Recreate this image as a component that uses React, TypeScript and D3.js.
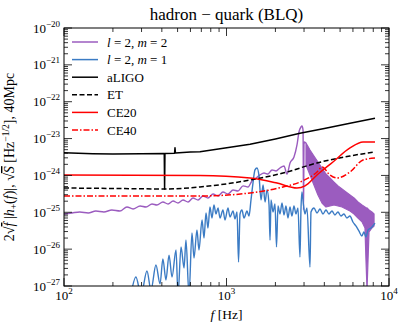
import React from 'react';
import * as d3 from 'd3';

// frequency [Hz], amplitude
const m22Line: [number, number][] = [
  [100, 9.0e-26], [112, 9.6e-26], [125, 1.02e-25], [141, 9.6e-26], [157, 1.08e-25], [176, 1.02e-25],
  [197, 1.15e-25], [221, 1.08e-25], [244, 1.39e-25], [266, 1.23e-25], [294, 1.48e-25], [320, 1.39e-25],
  [348, 1.68e-25], [373, 1.58e-25], [406, 1.9e-25], [437, 1.68e-25], [469, 2.02e-25], [503, 1.79e-25],
  [540, 2.16e-25], [580, 1.9e-25], [622, 2.44e-25], [668, 2.16e-25], [716, 2.77e-25], [769, 2.44e-25],
  [826, 3.13e-25], [887, 2.77e-25], [951, 3.56e-25], [1021, 3.13e-25], [1097, 4.03e-25], [1177, 3.79e-25],
  [1265, 5.2e-25], [1356, 4.86e-25], [1435, 7.06e-25], [1520, 8.5e-25], [1608, 1.03e-24], [1702, 1.16e-24],
  [1800, 1.09e-24], [1906, 1.41e-24], [2017, 1.32e-24], [2134, 1.59e-24], [2259, 1.8e-24], [2356, 1.09e-24],
  [2460, 2.18e-24], [2602, 3.16e-24], [2715, 6.7e-24], [2793, 1.51e-23], [2872, 2.06e-23], [2915, 2.19e-23],
  [2958, 1.71e-23], [2980, 1.15e-25], [3000, 8.07e-24], [3085, 7.56e-24],
];

// post-merger noisy band: frequency, upper, lower
const m22Band: [number, number, number][] = [
  [3085, 7.56e-24, 1.92e-24], [3265, 4.9e-24, 1.03e-24], [3452, 3.36e-24, 5.5e-25], [3654, 2.31e-24, 2.95e-25],
  [3870, 1.59e-24, 1.79e-25], [4093, 1.09e-24, 1.39e-25], [4333, 8.5e-25, 1.48e-25], [4590, 6.6e-25, 1.58e-25],
  [4858, 5.2e-25, 1.48e-25], [5140, 4.29e-25, 1.39e-25], [5436, 3.56e-25, 1.23e-25], [5755, 2.95e-25, 1.08e-25],
  [6095, 2.44e-25, 9.0e-26], [6445, 1.9e-25, 7.0e-26], [6820, 1.58e-25, 5.5e-26], [7115, 1.39e-25, 3.76e-26],
  [7215, 1.31e-25, 5.1e-27], [7325, 1.31e-25, 7.8e-28], [7430, 1.23e-25, 5.1e-27], [7535, 1.15e-25, 2.93e-26],
  [7850, 1.02e-25, 3.76e-26], [8090, 9.0e-26, 4.26e-26],
];

const m21Line: [number, number][] = [
  [258, 5.7e-28], [277, 1.76e-27], [298, 5.7e-28], [324, 2.55e-27], [343, 7.8e-28], [368, 3.72e-27],
  [390, 1.14e-27], [406, 5.4e-27], [424, 1.46e-27], [443, 6.9e-27], [462, 1.76e-27], [489, 9.5e-27],
  [503, 5.7e-28], [525, 1.15e-26], [548, 3.08e-27], [563, 1.77e-26], [588, 5.7e-28], [613, 2.74e-26],
  [631, 5.75e-27], [658, 3.31e-26], [677, 9.5e-27], [707, 6.2e-26], [727, 2.0e-26], [748, 9.6e-26],
  [769, 3.75e-26], [791, 1.39e-25], [814, 7.0e-26], [837, 1.58e-25], [861, 9.0e-26], [887, 1.31e-25],
  [912, 7.0e-26], [951, 1.15e-25], [979, 6.2e-26], [1021, 1.31e-25], [1051, 7.45e-26], [1097, 1.08e-25],
  [1128, 6.6e-26], [1161, 1.02e-25], [1186, 4.48e-27], [1211, 9.0e-26], [1245, 1.15e-25], [1282, 7.0e-26],
  [1337, 1.08e-25], [1375, 7.9e-26], [1415, 2.16e-25], [1455, 6.2e-25], [1497, 1.41e-24], [1540, 1.59e-24],
  [1585, 9.7e-25], [1631, 2.16e-25], [1679, 5.5e-25], [1727, 1.9e-25], [1775, 4.03e-25], [1827, 1.58e-25],
  [1853, 1.77e-26], [1879, 2.16e-25], [1933, 1.02e-25], [1988, 1.68e-25], [2031, 1.15e-26], [2075, 1.48e-25],
  [2134, 9.0e-26], [2196, 1.79e-25], [2259, 8.45e-26], [2323, 1.48e-25], [2390, 7.0e-26], [2458, 1.39e-25],
  [2529, 7.9e-26], [2601, 1.48e-25], [2676, 9.0e-26], [2753, 1.31e-25], [2832, 6.1e-27], [2872, 1.15e-25],
  [2913, 3.56e-25], [2976, 1.58e-25], [3041, 9.0e-26], [3128, 1.31e-25], [3264, 3.28e-27], [3311, 1.02e-25],
  [3455, 1.31e-25], [3605, 9.6e-26], [3761, 1.23e-25], [3924, 9.0e-26], [4094, 1.15e-25], [4272, 9.0e-26],
  [4457, 1.08e-25], [4650, 8.45e-26], [4851, 1.02e-25], [5061, 7.9e-26], [5280, 9.0e-26], [5509, 7.0e-26],
  [5747, 7.9e-26], [5996, 5.45e-26], [6256, 4.25e-26], [6527, 3.11e-26], [6810, 2.28e-26], [7010, 2.92e-26],
  [7215, 2.14e-26], [7427, 3.31e-26], [7748, 3.75e-26], [8200, 5.1e-26],
];

const aligo: [number, number][] = [
  [100, 4.1e-24], [150, 3.9e-24], [200, 3.8e-24], [300, 3.85e-24], [414, 3.95e-24], [416, 4.3e-25],
  [418, 3.95e-24], [479, 4.0e-24], [482, 5.6e-24], [485, 4.05e-24], [600, 4.3e-24], [687, 4.4e-24],
  [980, 5.56e-24], [1396, 7.0e-24], [2000, 9.8e-24], [2832, 1.39e-23], [4000, 1.88e-23], [5755, 2.6e-23],
  [8200, 3.55e-23],
];

const et: [number, number][] = [
  [100, 4.56e-25], [200, 4.43e-25], [419, 4.29e-25], [687, 4.86e-25], [1396, 7.5e-25], [2228, 1.16e-24],
  [3606, 2.18e-24], [5755, 3.37e-24], [8200, 4.33e-24],
];

const ce20: [number, number][] = [
  [100, 1.03e-24], [687, 1.0e-24], [1396, 8.5e-25], [2046, 6.2e-25], [2715, 4.56e-25], [3042, 5.2e-25],
  [3606, 1.03e-24], [4520, 2.32e-24], [5755, 5.56e-24], [6920, 8.07e-24], [8200, 8.07e-24],
];

const ce40: [number, number][] = [
  [100, 2.77e-25], [687, 2.77e-25], [1396, 3.34e-25], [2228, 4.86e-25], [2832, 6.6e-25], [3606, 1.24e-24],
  [3870, 1.69e-24], [4333, 1.03e-24], [4785, 8.5e-25], [5755, 1.24e-24], [6920, 2.62e-24], [8200, 2.97e-24],
];

const xTickExps = [2, 3, 4];
const yTickExps = [-27, -26, -25, -24, -23, -22, -21, -20];
const legendLabels = ['l=2,m=2', 'l=2,m=1', 'aLIGO', 'ET', 'CE20', 'CE40'];

const W = 407, H = 330;
const margin = { top: 28, right: 18, bottom: 44, left: 64 };
const FONT = '"Liberation Serif", "DejaVu Serif", serif';
const PURPLE = '#9b5cbf';
const BLUE = '#3b7bc4';

export default function App() {
  const iw = W - margin.left - margin.right;
  const ih = H - margin.top - margin.bottom;
  const x = d3.scaleLog().domain([1e2, 1e4]).range([0, iw]);
  const y = d3.scaleLog().domain([1e-27, 1e-20]).range([ih, 0]);

  const line = d3.line<[number, number]>().x(d => x(d[0])).y(d => y(d[1]));
  const smooth = d3.line<[number, number]>().x(d => x(d[0])).y(d => y(d[1])).curve(d3.curveMonotoneX);
  const band = d3.area<[number, number, number]>()
    .x(d => x(d[0])).y0(d => y(d[2])).y1(d => y(d[1]));

  const minorX: number[] = [];
  for (let e = 2; e < 4; e++) for (let m = 2; m < 10; m++) minorX.push(m * Math.pow(10, e));
  const minorY: number[] = [];
  for (let e = -27; e < -20; e++) for (let m = 2; m < 10; m++) minorY.push(m * Math.pow(10, e));

  const legendStyles = [
    { color: PURPLE, dash: undefined },
    { color: BLUE, dash: undefined },
    { color: '#000', dash: undefined },
    { color: '#000', dash: '5,2.5' },
    { color: '#ff0000', dash: undefined },
    { color: '#ff0000', dash: '6,2,1.5,2' },
  ];

  const renderLegendLabel = (s: string) => {
    if (s.startsWith('l=')) {
      const m = s.split(',')[1].split('=')[1];
      return (
        <>
          <tspan fontStyle="italic">l</tspan> = 2, <tspan fontStyle="italic">m</tspan> = {m}
        </>
      );
    }
    return s;
  };

  return (
    <svg width={W} height={H} style={{ position: 'fixed', left: 0, top: 0, background: '#fff' }} fontFamily={FONT}>
      <defs>
        <clipPath id="plot">
          <rect x={0} y={0} width={iw} height={ih} />
        </clipPath>
      </defs>
      <text x={margin.left + iw / 2} y={20} textAnchor="middle" fontSize={17}>
        hadron − quark (BLQ)
      </text>
      <g transform={`translate(${margin.left},${margin.top})`}>
        <g clipPath="url(#plot)" fill="none" strokeLinejoin="round">
          <path d={smooth(m22Line) ?? ''} stroke={PURPLE} strokeWidth={1.4} />
          <path d={band(m22Band) ?? ''} fill={PURPLE} stroke={PURPLE} strokeWidth={1.2} />
          <path d={smooth(m21Line) ?? ''} stroke={BLUE} strokeWidth={1.4} />
          <path d={line(aligo) ?? ''} stroke="#000" strokeWidth={1.5} />
          <path d={smooth(et) ?? ''} stroke="#000" strokeWidth={1.5} strokeDasharray="5,2.5" />
          <path d={smooth(ce20) ?? ''} stroke="#ff0000" strokeWidth={1.5} />
          <path d={smooth(ce40) ?? ''} stroke="#ff0000" strokeWidth={1.5} strokeDasharray="6,2,1.5,2" />
        </g>

        {/* ticks */}
        <g stroke="#000" strokeWidth={0.8}>
          {xTickExps.map(e => {
            const px = x(Math.pow(10, e));
            return (
              <g key={'xm' + e}>
                <line x1={px} x2={px} y1={ih} y2={ih - 8} />
                <line x1={px} x2={px} y1={0} y2={8} />
              </g>
            );
          })}
          {minorX.map(v => (
            <g key={'xn' + v}>
              <line x1={x(v)} x2={x(v)} y1={ih} y2={ih - 4} />
              <line x1={x(v)} x2={x(v)} y1={0} y2={4} />
            </g>
          ))}
          {yTickExps.map(e => {
            const py = y(Math.pow(10, e));
            return (
              <g key={'ym' + e}>
                <line x1={0} x2={8} y1={py} y2={py} />
                <line x1={iw} x2={iw - 8} y1={py} y2={py} />
              </g>
            );
          })}
          {minorY.map(v => (
            <g key={'yn' + v}>
              <line x1={0} x2={4} y1={y(v)} y2={y(v)} />
              <line x1={iw} x2={iw - 4} y1={y(v)} y2={y(v)} />
            </g>
          ))}
        </g>
        <rect x={0} y={0} width={iw} height={ih} fill="none" stroke="#000" strokeWidth={1} />

        {/* tick labels */}
        {xTickExps.map(e => (
          <text key={'xl' + e} x={x(Math.pow(10, e))} y={ih + 14} textAnchor="middle" fontSize={13}>
            10<tspan fontSize={9} dy={-6}>{e}</tspan>
          </text>
        ))}
        {yTickExps.map(e => (
          <text key={'yl' + e} x={-4} y={y(Math.pow(10, e)) + 4.5} textAnchor="end" fontSize={13}>
            10<tspan fontSize={9} dy={-6}>{'−' + Math.abs(e)}</tspan>
          </text>
        ))}

        {/* legend */}
        {legendLabels.map((lab, i) => {
          const ly = 14 + i * 17.6;
          const st = legendStyles[i];
          return (
            <g key={lab}>
              <line x1={8} x2={34} y1={ly} y2={ly} stroke={st.color} strokeWidth={1.5} strokeDasharray={st.dash} />
              <text x={43} y={ly + 4.5} fontSize={13}>{renderLegendLabel(lab)}</text>
            </g>
          );
        })}
      </g>

      <text x={margin.left + iw / 2} y={319} textAnchor="middle" fontSize={13.5}>
        <tspan fontStyle="italic">f</tspan> [Hz]
      </text>
      <text transform={`translate(14,${margin.top + ih / 2}) rotate(-90)`} textAnchor="middle" fontSize={14}>
        2√<tspan fontStyle="italic" textDecoration="overline">f</tspan> |<tspan fontStyle="italic">h</tspan>
        <tspan fontSize={9.5} dy={3}>+</tspan>
        <tspan dy={-3}>(</tspan><tspan fontStyle="italic">f</tspan>)|, √<tspan fontStyle="italic" textDecoration="overline">S</tspan> [Hz
        <tspan fontSize={9.5} dy={-5}>−1/2</tspan>
        <tspan dy={5}>], 40Mpc</tspan>
      </text>
    </svg>
  );
}
